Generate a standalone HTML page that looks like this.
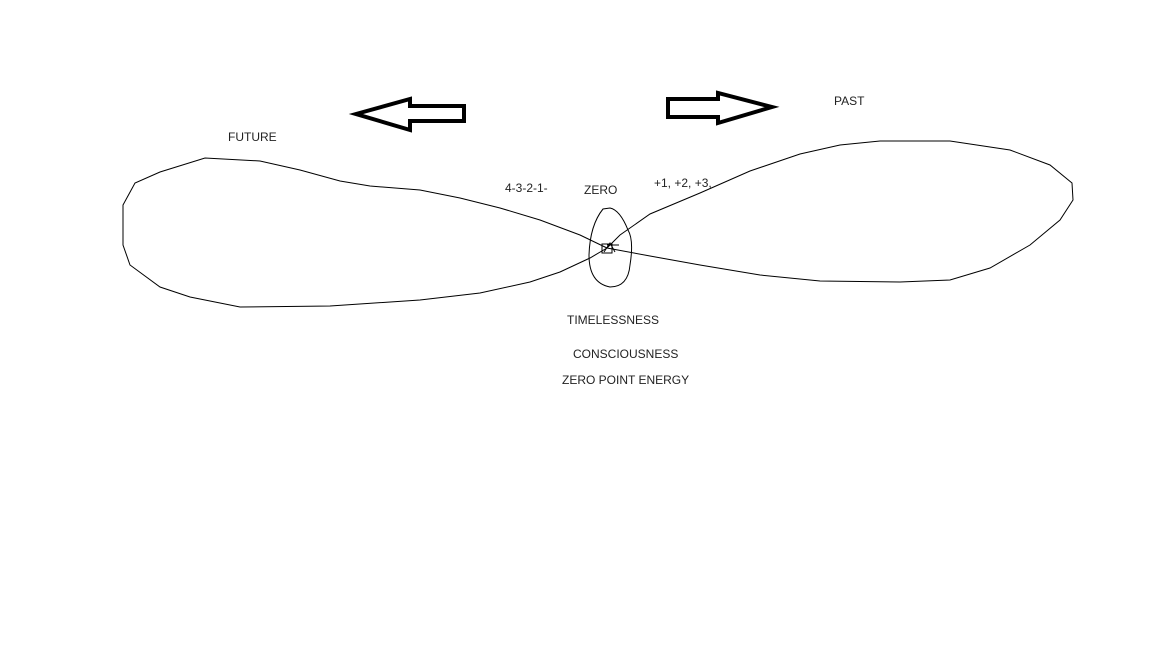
<!DOCTYPE html>
<html><head><style>
body{margin:0;background:#fff;}
svg{display:block}
text{font-family:"Liberation Sans",sans-serif;font-size:12px;fill:#222}
</style></head><body>
<svg width="1152" height="648" viewBox="0 0 1152 648">
<rect width="1152" height="648" fill="#fff"/>
<g fill="none" stroke="#000" stroke-width="4" stroke-linejoin="miter">
<polygon points="356,114 410,99 410,106 464,106 464,121 410,121 410,130"/>
<polygon points="668,99 718,99 718,93 772,107 718,123 718,117 668,117"/>
</g>
<g fill="none" stroke="#000" stroke-width="1">
<path d="M607,248 L580,235 L540,220 L500,208 L460,198 L420,190 L370,186 L340,181 L300,170 L260,161 L205,158 L160,172 L135,183 L123,205 L123,245 L130,265 L160,287 L190,297 L240,307 L330,306 L420,300 L480,293 L530,282 L560,272 L590,258 L607,248"/>
<path d="M607,248 L620,235 L650,214 L700,193 L750,171 L800,154 L840,145 L880,141 L950,141 L1010,150 L1050,165 L1072,183 L1073,200 L1060,220 L1030,245 L990,268 L950,280 L900,282 L820,281 L760,275 L700,265 L650,256 L607,248"/>
<path d="M603,209 Q590,225 589,255 Q589,283 610,287 Q628,287 630,265 Q634,240 628,230 Q620,210 610,208 Z"/>
<rect x="602" y="244" width="10" height="9"/>
<path d="M604,252 L610,243 L615,252 M607,245 L619,245"/>
</g>
<text x="228" y="141">FUTURE</text>
<text x="834" y="105">PAST</text>
<text x="505" y="192">4-3-2-1-</text>
<text x="584" y="194">ZERO</text>
<text x="654" y="187">+1, +2, +3,</text>
<text x="567" y="324">TIMELESSNESS</text>
<text x="573" y="358">CONSCIOUSNESS</text>
<text x="562" y="384">ZERO POINT ENERGY</text>
</svg>
</body></html>
